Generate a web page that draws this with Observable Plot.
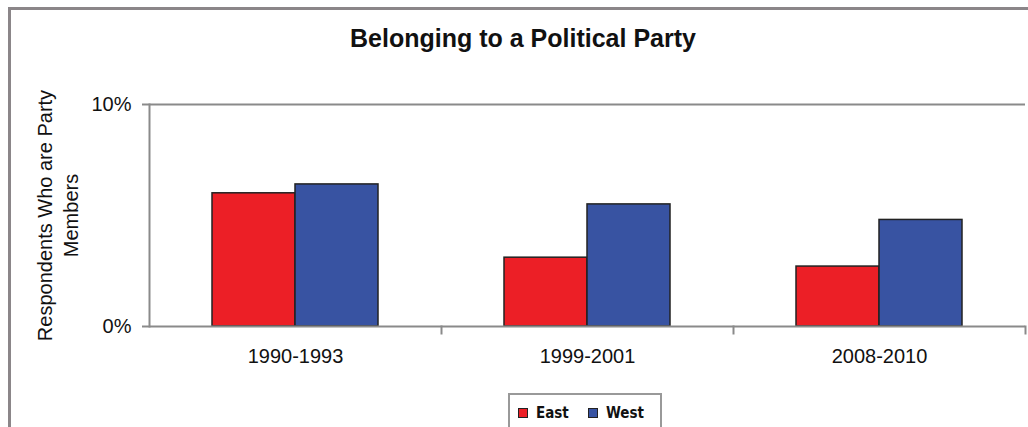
<!DOCTYPE html>
<html>
<head>
<meta charset="utf-8">
<script src="https://cdn.jsdelivr.net/npm/d3@7"></script>
<script src="https://cdn.jsdelivr.net/npm/@observablehq/plot@0.6"></script>
<style>
  html, body { margin: 0; padding: 0; background: #fff; }
  body { width: 1028px; height: 427px; position: relative; overflow: hidden; font-family: "Liberation Sans", Arial, sans-serif; }
  #border { position: absolute; left: 8px; top: 7px; width: 1040px; height: 440px; border-left: 3px solid #8b8689; border-top: 3px solid #8b8689; box-sizing: border-box; }
  #title { position: absolute; left: 0; width: 1046px; top: 24px; text-align: center; font-weight: bold; font-size: 25px; color: #111; }
  #chart { position: absolute; left: 0; top: 0; }
  #legend { position: absolute; left: 508px; top: 393px; width: 154px; height: 45px; border: 2px solid #999; box-sizing: border-box; font-family: "DejaVu Sans Condensed", "Liberation Sans Narrow", sans-serif; font-weight: bold; font-size: 15px; color: #111; }
  .item { position: absolute; top: 9px; display: flex; align-items: center; }
  .sw { width: 8px; height: 8px; border: 1px solid #222; margin-right: 8px; }
</style>
</head>
<body>
<div id="border"></div>
<div id="chart"></div>
<div id="title"></div>
<div id="legend"></div>
<script>
const titleText = "Belonging to a Political Party";
const yLabel = "Respondents Who are Party\nMembers";
const periods = ["1990-1993", "1999-2001", "2008-2010"];
const seriesNames = ["East", "West"];
const seriesColors = ["#ec1f26", "#3853a2"];
const eastValues = [6.0, 3.1, 2.7];
const westValues = [6.4, 5.5, 4.8];
const yTicks = [0, 10];

const data = [];
periods.forEach((p, i) => {
  data.push({period: p, series: "East", value: eastValues[i]});
  data.push({period: p, series: "West", value: westValues[i]});
});

document.getElementById("title").textContent = titleText;

const chart = Plot.plot({
  width: 1028,
  height: 427,
  marginLeft: 148,
  marginRight: 3,
  marginTop: 104,
  marginBottom: 101,
  style: {fontFamily: "'Liberation Sans', Arial, sans-serif", background: "transparent", color: "#111"},
  fx: {domain: periods, padding: 0, axis: null},
  x: {domain: seriesNames, paddingInner: 0, paddingOuter: 0.75, axis: null},
  y: {domain: [0, 10], axis: null},
  color: {domain: seriesNames, range: seriesColors},
  marks: [
    Plot.ruleY([10], {stroke: "#8a8a8a", strokeWidth: 2}),
    Plot.barY(data, {fx: "period", x: "series", y: "value", fill: "series", stroke: "#222", strokeWidth: 1.5}),
    Plot.ruleY([0], {stroke: "#8a8a8a", strokeWidth: 2}),
    Plot.frame({anchor: "right", stroke: "#8a8a8a", strokeWidth: 2, insetTop: 222, insetBottom: -7}),
    Plot.frame({anchor: "left", fx: [periods[0]], stroke: "#8a8a8a", strokeWidth: 2}),
    Plot.axisY({ticks: yTicks, tickFormat: d => d + "%", tickSize: 7, tickPadding: 11, fontSize: 20, stroke: "#8a8a8a", strokeWidth: 2, fill: "#111", label: null}),
    Plot.axisFx({anchor: "bottom", tickSize: 0, tickPadding: 22, fontSize: 20, fill: "#111", label: null}),
    Plot.text([yLabel], {fx: [periods[0]], frameAnchor: "left", rotate: -90, dx: -93, fontSize: 20, lineHeight: 1.3, textAnchor: "middle", fill: "#111"})
  ]
});
document.getElementById("chart").appendChild(chart);

const legend = document.getElementById("legend");
const lefts = [8, 78];
seriesNames.forEach((s, i) => {
  const it = document.createElement("div");
  it.className = "item";
  it.style.left = lefts[i] + "px";
  const sw = document.createElement("div");
  sw.className = "sw";
  sw.style.background = seriesColors[i];
  const lb = document.createElement("span");
  lb.textContent = s;
  it.appendChild(sw);
  it.appendChild(lb);
  legend.appendChild(it);
});
</script>
</body>
</html>
